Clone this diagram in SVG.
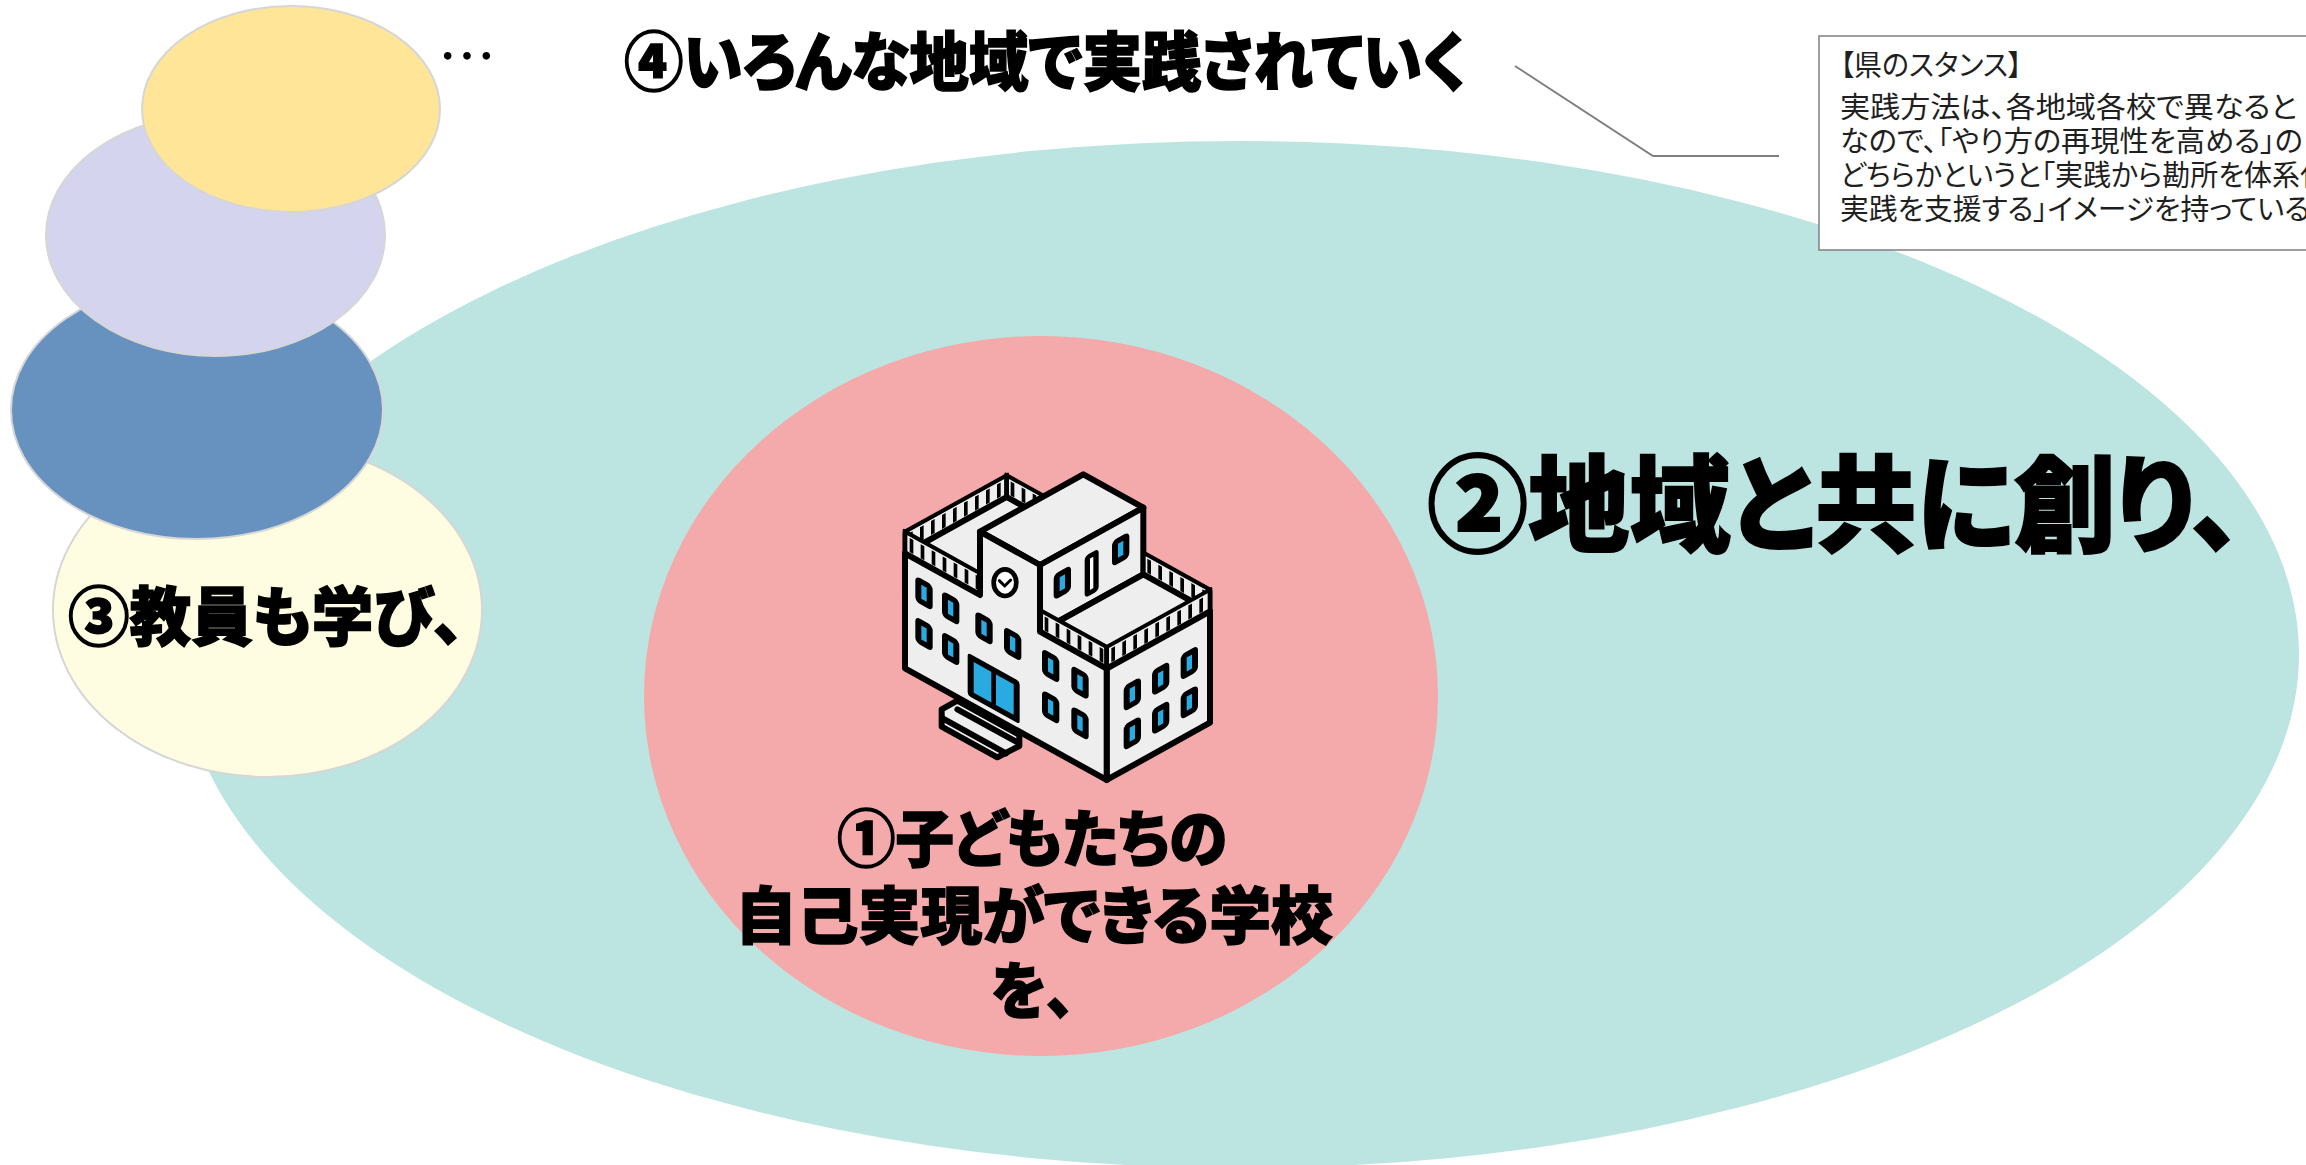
<svg xmlns="http://www.w3.org/2000/svg" width="2306" height="1165" viewBox="0 0 2306 1165">
  <style>
    .lbl{font-family:"Noto Sans CJK JP","Noto Sans CJK SC",sans-serif;font-weight:900;fill:#000;stroke:#000;paint-order:stroke;font-feature-settings:"palt";}
    .note{font-family:"Noto Sans CJK JP","Noto Sans CJK SC",sans-serif;font-size:29px;fill:#1f1f1f;font-feature-settings:"palt";}
    .stack{stroke:#d6d6d6;stroke-width:2;}
    .ol{stroke:#000;stroke-width:18;stroke-linejoin:round;stroke-linecap:round;}
    .wall{fill:#eeeeee;}
    .win{fill:#29abe2;stroke:#000;stroke-width:18;stroke-linejoin:round;}
    .railbox{fill:#eeeeee;stroke:#000;stroke-width:14;stroke-linejoin:round;}
    .slats{stroke:#000;stroke-width:42;stroke-dasharray:11 22;fill:none;}
  </style>

  <!-- outer region: community -->
  <g id="node-community">
    <ellipse cx="1240" cy="654.5" rx="1059" ry="513.5" fill="#bce5e1"/>
    <text class="lbl" x="1427" y="543" font-size="105" stroke-width="2" textLength="815" lengthAdjust="spacingAndGlyphs">②地域と共に創り、</text>
  </g>

  <!-- inner region: school -->
  <g id="node-school">
    <ellipse cx="1041" cy="696" rx="397" ry="360" fill="#f4a9aa"/>

    <!-- isometric school building -->
    <g id="school-icon" transform="translate(880 460) scale(0.33333)">
      <!-- left wing: back railings -->
      <g transform="translate(75 215) skewY(-29)">
        <rect class="railbox" x="0" y="0" width="305" height="65"/>
        <line class="slats" x1="12" y1="32.5" x2="300" y2="32.5"/>
      </g>
      <g transform="translate(380 46) skewY(29)">
        <rect class="railbox" x="0" y="0" width="225" height="65"/>
        <line class="slats" x1="12" y1="32.5" x2="220" y2="32.5"/>
      </g>
      <!-- left wing roof -->
      <polygon class="wall ol" points="75,280 380,111 605,236 300,405"/>
      <!-- left wing front railing -->
      <g transform="translate(75 215) skewY(29)">
        <rect class="railbox" x="0" y="0" width="225" height="65"/>
        <line class="slats" x1="14" y1="32.5" x2="220" y2="32.5"/>
      </g>

      <!-- tower -->
      <polygon class="wall ol" points="300,215 610,43 790,143 480,315"/>
      <polygon class="wall ol" points="480,315 790,143 790,343 480,515"/>
      <g transform="translate(547 368) skewY(-29)"><rect class="win" x="-17" y="-30" width="34" height="60" rx="5"/></g>
      <g transform="translate(722 268) skewY(-29)"><rect class="win" x="-17" y="-30" width="34" height="60" rx="5"/></g>
      <g transform="translate(635 340) skewY(-29)"><rect x="-13" y="-55" width="26" height="110" rx="4" fill="#fff" stroke="#000" stroke-width="16"/></g>

      <!-- right wing: back railing, roof, front railings -->
      <g transform="translate(790 278) skewY(29)">
        <rect class="railbox" x="0" y="0" width="200" height="65"/>
        <line class="slats" x1="12" y1="32.5" x2="195" y2="32.5"/>
      </g>
      <polygon class="wall ol" points="480,515 790,343 990,454 680,626"/>
      <g transform="translate(480 450) skewY(29)">
        <rect class="railbox" x="0" y="0" width="200" height="65"/>
        <line class="slats" x1="14" y1="32.5" x2="195" y2="32.5"/>
      </g>
      <g transform="translate(680 561) skewY(-29)">
        <rect class="railbox" x="0" y="0" width="310" height="65"/>
        <line class="slats" x1="14" y1="32.5" x2="305" y2="32.5"/>
      </g>
      <!-- right wing side face -->
      <polygon class="wall ol" points="680,626 990,454 990,788 680,960"/>

      <!-- main front face -->
      <polygon class="wall ol" points="75,280 300,405 300,215 480,315 480,515 680,626 680,960 75,625"/>

      <!-- front windows -->
      <g transform="translate(132 400) skewY(29)"><rect class="win" x="-17" y="-30" width="34" height="60" rx="5"/></g>
      <g transform="translate(212 445) skewY(29)"><rect class="win" x="-17" y="-30" width="34" height="60" rx="5"/></g>
      <g transform="translate(132 522) skewY(29)"><rect class="win" x="-17" y="-30" width="34" height="60" rx="5"/></g>
      <g transform="translate(212 567) skewY(29)"><rect class="win" x="-17" y="-30" width="34" height="60" rx="5"/></g>
      <g transform="translate(312 505) skewY(29)"><rect class="win" x="-17" y="-30" width="34" height="60" rx="5"/></g>
      <g transform="translate(398 552) skewY(29)"><rect class="win" x="-17" y="-30" width="34" height="60" rx="5"/></g>
      <g transform="translate(512 618) skewY(29)"><rect class="win" x="-17" y="-30" width="34" height="60" rx="5"/></g>
      <g transform="translate(600 668) skewY(29)"><rect class="win" x="-17" y="-30" width="34" height="60" rx="5"/></g>
      <g transform="translate(512 742) skewY(29)"><rect class="win" x="-17" y="-30" width="34" height="60" rx="5"/></g>
      <g transform="translate(600 790) skewY(29)"><rect class="win" x="-17" y="-30" width="34" height="60" rx="5"/></g>

      <!-- side windows -->
      <g transform="translate(757 703) skewY(-29)"><rect class="win" x="-17" y="-30" width="34" height="60" rx="5"/></g>
      <g transform="translate(842 656) skewY(-29)"><rect class="win" x="-17" y="-30" width="34" height="60" rx="5"/></g>
      <g transform="translate(928 609) skewY(-29)"><rect class="win" x="-17" y="-30" width="34" height="60" rx="5"/></g>
      <g transform="translate(757 820) skewY(-29)"><rect class="win" x="-17" y="-30" width="34" height="60" rx="5"/></g>
      <g transform="translate(842 773) skewY(-29)"><rect class="win" x="-17" y="-30" width="34" height="60" rx="5"/></g>
      <g transform="translate(928 727) skewY(-29)"><rect class="win" x="-17" y="-30" width="34" height="60" rx="5"/></g>

      <!-- clock -->
      <ellipse cx="375" cy="368" rx="34" ry="40" fill="#fff" stroke="#000" stroke-width="14"/>
      <path d="M358 362 L374 378 L392 360" fill="none" stroke="#000" stroke-width="9" stroke-linecap="round" stroke-linejoin="round"/>

      <!-- entrance doors -->
      <g transform="translate(272 592) skewY(29)">
        <rect class="win" x="0" y="0" width="138" height="110"/>
        <line x1="69" y1="0" x2="69" y2="110" stroke="#000" stroke-width="14"/>
      </g>

      <!-- steps -->
      <polygon class="wall ol" points="185,748 232,722 418,825 418,858 352,892 185,800"/>
      <path class="ol" fill="none" d="M188 775 L378 880 M232 748 L414 848"/>
    </g>

    <text class="lbl" font-size="62" stroke-width="1.5" text-anchor="middle">
      <tspan x="1039" y="862" textLength="390" lengthAdjust="spacingAndGlyphs">①子どもたちの</tspan>
      <tspan x="1041" y="939" textLength="598" lengthAdjust="spacingAndGlyphs">自己実現ができる学校</tspan>
      <tspan x="1033" y="1014" textLength="84" lengthAdjust="spacingAndGlyphs">を、</tspan>
    </text>
  </g>

  <!-- stacked ellipses: teachers, then other areas -->
  <g id="node-teachers">
    <ellipse class="stack" cx="267.5" cy="610" rx="214.5" ry="167" fill="#fffde1"/>
    <text class="lbl" x="68" y="640" font-size="64" stroke-width="1.5" textLength="396" lengthAdjust="spacingAndGlyphs">③教員も学び、</text>
  </g>
  <g id="node-layer-blue">
    <ellipse class="stack" cx="197" cy="410" rx="186" ry="129" fill="#6792bf"/>
  </g>
  <g id="node-layer-lavender">
    <ellipse class="stack" cx="215.5" cy="235" rx="169.5" ry="121" fill="#d4d4ee"/>
  </g>
  <g id="node-layer-yellow">
    <ellipse class="stack" cx="291" cy="109" rx="149" ry="103" fill="#ffe597"/>
    <text x="438" y="78" font-family="'Noto Sans CJK JP',sans-serif" font-size="58" fill="#000">…</text>
  </g>

  <!-- heading -->
  <g id="node-spread">
    <text class="lbl" x="624" y="85" font-size="64" stroke-width="1.5" textLength="842" lengthAdjust="spacingAndGlyphs">④いろんな地域で実践されていく</text>
  </g>

  <!-- leader line to the note -->
  <g id="connectors">
    <polyline points="1515,66 1653,156 1779,156" fill="none" stroke="#7f7f7f" stroke-width="2"/>
  </g>

  <!-- prefecture stance note -->
  <g id="node-note">
    <rect x="1819" y="36" width="520" height="214" fill="#fff" stroke="#7f7f7f" stroke-width="1.5"/>
    <text class="note">
      <tspan x="1840" y="76" textLength="182" lengthAdjust="spacingAndGlyphs">【県のスタンス】</tspan>
      <tspan x="1840" y="118" textLength="457" lengthAdjust="spacingAndGlyphs">実践方法は、各地域各校で異なると</tspan>
      <tspan x="1840" y="152" textLength="463" lengthAdjust="spacingAndGlyphs">なので、「やり方の再現性を高める」の</tspan>
      <tspan x="1840" y="186" textLength="488" lengthAdjust="spacingAndGlyphs">どちらかというと「実践から勘所を体系化</tspan>
      <tspan x="1840" y="220" textLength="470" lengthAdjust="spacingAndGlyphs">実践を支援する」イメージを持っている</tspan>
    </text>
  </g>
</svg>
